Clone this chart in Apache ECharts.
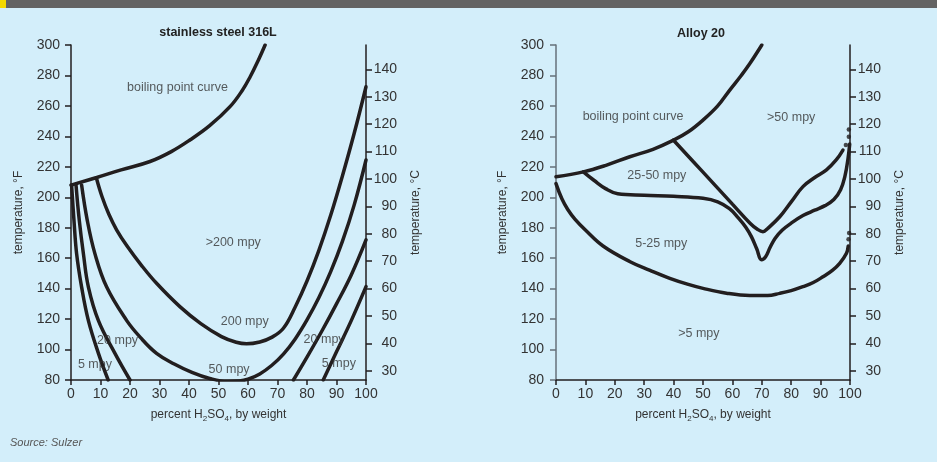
<!DOCTYPE html>
<html>
<head>
<meta charset="utf-8">
<script src="https://cdn.jsdelivr.net/npm/echarts@6/dist/echarts.min.js"></script>
<style>
html, body { margin: 0; padding: 0; background: #d3eefa; }
#chart { width: 937px; height: 462px; }
</style>
</head>
<body>
<div id="chart"></div>
<script>
// stainless steel 316L  ([% H2SO4, °F])
const ssBoiling = [[0, 208], [8.7, 213], [17, 218], [26.8, 223.5], [34, 230], [40.3, 237.6], [47, 247], [53.9, 259.5], [58, 270], [60.7, 279], [63.5, 290], [65.8, 300]];
const ss5Left = [[0.2, 208], [1.0, 185], [1.9, 163], [3.6, 141], [5.9, 119], [9.3, 97.5], [12.6, 80]];
const ss20Left = [[1.7, 208], [2.8, 185], [4.2, 163], [5.9, 141], [9.3, 119], [14.9, 97.5], [20, 80]];
const ss50 = [[3.6, 208], [5.5, 185], [8.1, 163], [12.1, 141], [18.9, 119], [23.5, 108], [29, 97.5], [35, 90.5], [41, 85], [47, 81], [53, 79], [57, 79.3], [60, 80.5], [64, 84], [68, 89.5], [72, 97], [76, 107], [80, 119.5], [84, 134], [88, 151], [92, 171], [96, 195], [100, 224.5]];
const ss200 = [[8.7, 212], [10.5, 200.5], [12.8, 189], [15.5, 178.5], [19, 168], [24, 155], [29, 143.5], [37, 128], [44, 117], [51, 108.5], [56, 104.8], [59.5, 103.8], [64, 105], [68, 108], [72, 114], [76, 128], [80, 145], [84, 165], [88, 188], [92, 214], [96, 242], [100, 272.6]];
const ss20Right = [[75.4, 80], [80, 95], [85, 112], [90, 130], [95, 149], [100, 172]];
const ss5Right = [[85.5, 80], [90, 98.5], [95, 119], [100, 141.3]];
const ssLabels = [[36.1, 271.8, 'boiling point curve'], [55, 170, '>200 mpy'], [58.9, 118.7, '200 mpy'], [53.6, 87, '50 mpy'], [15.8, 105.8, '20 mpy'], [8.1, 90.3, '5 mpy'], [85.8, 106.3, '20 mpy'], [90.8, 90.5, '5 mpy']];

// Alloy 20
const a20Boiling = [[0, 213.5], [9.3, 216.7], [17, 221], [25.1, 226.6], [33, 231.5], [40, 237.5], [45, 243], [50, 250.7], [55, 260], [59.1, 270.4], [63, 280], [66, 288], [70, 300]];
const a20Upper = [[39.9, 237.6], [50, 216.5], [60, 195.5], [66, 183], [68.5, 179], [70.4, 177.4], [72, 179.5], [76.1, 187.2], [80, 197], [84, 207], [88, 213], [92, 218], [95.3, 224.5], [97.6, 231]];
const a20Lower = [[9.3, 216.7], [13, 211], [17, 205.5], [21, 202.3], [30, 201.3], [40, 200.6], [50, 199.3], [55, 197], [59, 192.5], [62, 186.5], [64.5, 180.5], [66.5, 174], [68.3, 166], [69.9, 159], [71.3, 161], [72.8, 167], [74.5, 173], [77, 178.5], [80, 183], [84, 188], [88, 191.5], [91.5, 194.5], [94.5, 198.5], [96.8, 205], [98.3, 214], [99.3, 225], [99.9, 235]];
const a20Bottom = [[0, 209], [2, 199], [4, 192], [6.5, 185.5], [10, 178.5], [16, 168], [25.2, 157.7], [32, 152], [38.7, 146.8], [45, 142.8], [50, 140.2], [58, 137], [65.9, 135.5], [72, 135.5], [76.1, 136.9], [80, 138.7], [84, 141.3], [87.5, 144], [90.8, 147.8], [94, 152], [96.5, 156.6], [98.8, 163.2], [99.4, 168]];
const a20Dots = [[98.6, 234.3], [99.6, 239.8], [99.6, 244.5], [99.5, 172.5], [99.7, 176.5]];
const a20Labels = [[26.2, 252.7, 'boiling point curve'], [80, 252.5, '>50 mpy'], [34.3, 214, '25-50 mpy'], [35.8, 169.3, '5-25 mpy'], [48.6, 110.6, '>5 mpy']];

const xTicks = { min: 0, max: 100, interval: 10 };
const fTicks = { min: 80, max: 300, interval: 20 };
const cTicks = [30, 40, 50, 60, 70, 80, 90, 100, 110, 120, 130, 140];

const font = "'Liberation Sans', Arial, sans-serif";
const ink = '#221e1f';
const txt = '#333333';

const chart = echarts.init(document.getElementById('chart'));

function xAxis(gi) {
    return {
        type: 'value', gridIndex: gi, min: xTicks.min, max: xTicks.max, interval: xTicks.interval,
        axisLine: { show: true, onZero: false, lineStyle: { color: ink, width: 1.5 } },
        axisTick: { show: true, length: 5, lineStyle: { color: ink, width: 1.5 } },
        axisLabel: { color: txt, fontSize: 14, margin: 7, fontFamily: font },
        splitLine: { show: false },
        name: 'percent H{s|2}SO{s|4}, by weight', nameLocation: 'middle', nameGap: 27,
        nameTextStyle: {
            color: txt, fontSize: 12, lineHeight: 16, fontFamily: font,
            rich: { s: { fontSize: 8, lineHeight: 8, verticalAlign: 'bottom', color: txt, fontFamily: font } }
        }
    };
}

function yLeft(gi, color, margin, gap) {
    return {
        type: 'value', gridIndex: gi, position: 'left', min: fTicks.min, max: fTicks.max, interval: fTicks.interval,
        axisLine: { show: true, onZero: false, lineStyle: { color: color, width: 1.5 } },
        axisTick: { show: true, length: 6, lineStyle: { color: color, width: 1.5 } },
        axisLabel: { color: txt, fontSize: 14, margin: margin, fontFamily: font },
        splitLine: { show: false },
        name: 'temperature, °F', nameLocation: 'middle', nameGap: gap,
        nameTextStyle: { color: txt, fontSize: 12, fontFamily: font }
    };
}

function yRight(gi, gap) {
    return {
        type: 'value', gridIndex: gi, position: 'right',
        min: (fTicks.min - 32) / 1.8, max: (fTicks.max - 32) / 1.8,
        axisLine: { show: true, onZero: false, lineStyle: { color: ink, width: 1.5 } },
        axisTick: { show: true, length: 6, customValues: cTicks, lineStyle: { color: ink, width: 1.5 } },
        axisLabel: { color: txt, fontSize: 14, margin: 31, align: 'right', customValues: cTicks, fontFamily: font },
        splitLine: { show: false },
        name: 'temperature, °C', nameLocation: 'middle', nameGap: gap,
        nameTextStyle: { color: txt, fontSize: 12, fontFamily: font }
    };
}

function curve(data, gi) {
    return {
        type: 'line', xAxisIndex: gi, yAxisIndex: gi * 2, data: data,
        smooth: 0.4, symbol: 'none', silent: true, clip: true,
        lineStyle: { color: ink, width: 3.5, cap: 'round' }
    };
}

function labels(data, gi) {
    return {
        type: 'scatter', xAxisIndex: gi, yAxisIndex: gi * 2, data: data,
        symbolSize: 0, silent: true, z: 5,
        label: {
            show: true, position: 'inside', color: txt, fontSize: 12.5, fontFamily: font,
            formatter: p => p.value[2]
        }
    };
}

const option = {
    backgroundColor: '#d3eefa',
    animation: false,
    grid: [
        { left: 71, right: 571, top: 45, bottom: 82 },
        { left: 556, right: 87, top: 45, bottom: 82 }
    ],
    xAxis: [xAxis(0), xAxis(1)],
    yAxis: [yLeft(0, ink, 11, 46), yRight(0, 44), yLeft(1, '#66707a', 12, 47), yRight(1, 44)],
    series: [
        curve(ssBoiling, 0), curve(ss5Left, 0), curve(ss20Left, 0), curve(ss50, 0),
        curve(ss200, 0), curve(ss20Right, 0), curve(ss5Right, 0), labels(ssLabels, 0),
        curve(a20Boiling, 1), curve(a20Upper, 1), curve(a20Lower, 1), curve(a20Bottom, 1),
        {
            type: 'scatter', xAxisIndex: 1, yAxisIndex: 2, data: a20Dots,
            symbolSize: 4.5, silent: true, itemStyle: { color: ink }
        },
        labels(a20Labels, 1)
    ],
    graphic: [
        { type: 'rect', shape: { x: 0, y: 0, width: 937, height: 8 }, style: { fill: '#636363' } },
        { type: 'rect', shape: { x: 0, y: 0, width: 6, height: 8 }, style: { fill: '#f4d900' } },
        {
            type: 'text', x: 218, y: 32.5,
            style: { text: 'stainless steel 316L', fill: '#222', font: "bold 12.5px 'Liberation Sans', Arial, sans-serif", align: 'center', verticalAlign: 'middle' }
        },
        {
            type: 'text', x: 701, y: 33.5,
            style: { text: 'Alloy 20', fill: '#222', font: "bold 12.5px 'Liberation Sans', Arial, sans-serif", align: 'center', verticalAlign: 'middle' }
        },
        {
            type: 'text', x: 10, y: 443,
            style: { text: 'Source: Sulzer', fill: '#555', font: "italic 11px 'Liberation Sans', Arial, sans-serif", align: 'left', verticalAlign: 'middle' }
        }
    ]
};

chart.setOption(option);
</script>
</body>
</html>
